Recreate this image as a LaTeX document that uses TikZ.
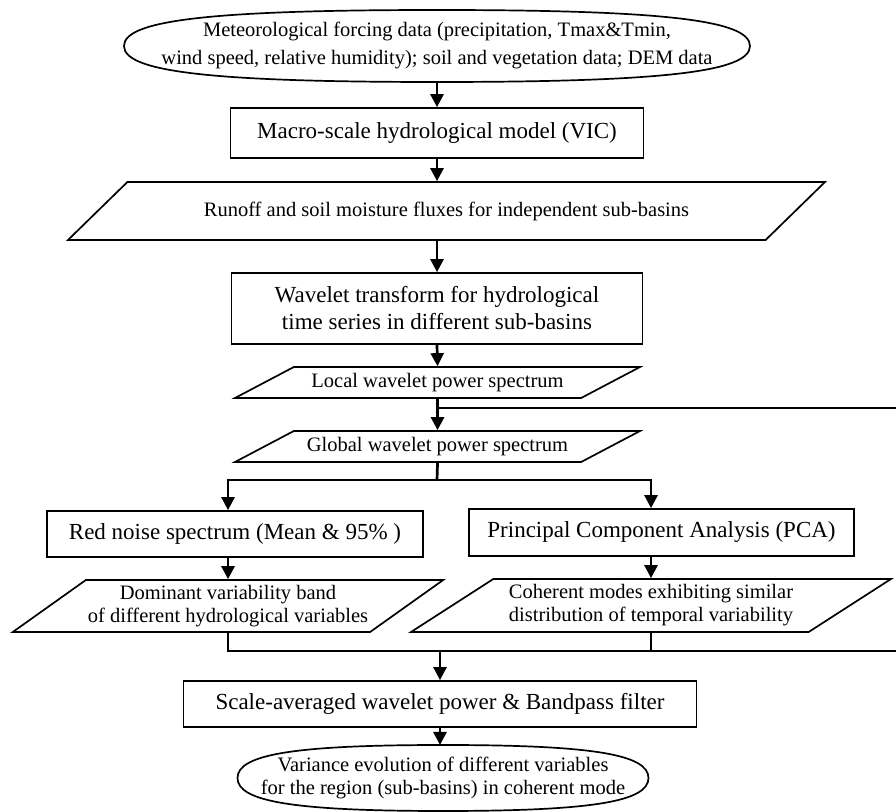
\documentclass[tikz,border=0pt]{standalone}
\usepackage{fontspec}
\setmainfont{Liberation Serif}
\usetikzlibrary{arrows.meta,calc,shapes.geometric}

% flattened oval drawn round a rectangle node
\newcommand{\ovaloutline}[1]{%
  \draw[line width=0.85pt] (#1.west)
    .. controls ($(#1.west)!0.72!(#1.north west)$) and ($(#1.north)!0.72!(#1.north west)$) .. (#1.north)
    .. controls ($(#1.north)!0.72!(#1.north east)$) and ($(#1.east)!0.72!(#1.north east)$) .. (#1.east)
    .. controls ($(#1.east)!0.72!(#1.south east)$) and ($(#1.south)!0.72!(#1.south east)$) .. (#1.south)
    .. controls ($(#1.south)!0.72!(#1.south west)$) and ($(#1.west)!0.72!(#1.south west)$) .. cycle;}

\tikzset{
  procbox/.style={draw,line width=0.85pt,rectangle,inner sep=2pt,align=center,
    font=\fontsize{11.5}{13.5}\selectfont},
  databox/.style 2 args={draw,line width=0.85pt,trapezium,trapezium left angle=#1,
    trapezium right angle=#2,trapezium stretches body,inner sep=1pt,align=center,
    font=\fontsize{10.25}{11.5}\selectfont},
  ovalbox/.style={rectangle,inner sep=0pt,outer sep=0pt,align=center},
  conn/.style={line width=1.35pt},
  arr/.style={conn,-{Triangle[length=6.5pt,width=6.5pt]}}
}

\begin{document}
\begin{tikzpicture}[x=0.5pt,y=-0.5pt]
\useasboundingbox (0,0) rectangle (896,812);
\node[ovalbox,minimum width=313pt,minimum height=36pt,font=\fontsize{10.25}{14}\selectfont] (forcing) at (437,46)
  {Meteorological forcing data (precipitation, Tmax\&Tmin,\\wind speed, relative humidity); soil and vegetation data; DEM data};
\node[procbox,minimum width=206.5pt,minimum height=25pt] (vic) at (437,133) {Macro-scale hydrological model (VIC)};
\node[databox={21}{159},minimum width=378.5pt,minimum height=29pt] (runoff) at (446.5,211) {Runoff and soil moisture fluxes for independent sub-basins};
\node[procbox,minimum width=205.5pt,minimum height=35.5pt] (wavelet) at (437,308.5) {Wavelet transform for hydrological\\time series in different sub-basins};
\node[databox={21}{159},minimum width=202.5pt,minimum height=15.5pt] (local) at (437.5,382.5) {Local wavelet power spectrum};
\node[databox={21}{159},minimum width=202.5pt,minimum height=15.5pt] (global) at (437.5,446.5) {Global wavelet power spectrum};
\node[procbox,minimum width=188pt,minimum height=23pt] (rednoise) at (235,534) {Red noise spectrum (Mean \& 95\% )};
\node[procbox,minimum width=192.5pt,minimum height=23.5pt] (pca) at (661.5,532.5) {Principal Component Analysis (PCA)};
\node[databox={32}{148},minimum width=214pt,minimum height=26pt] (dominant) at (228,606) {Dominant variability band\\of different hydrological variables};
\node[databox={29}{151},minimum width=240pt,minimum height=26.5pt] (coherent) at (651,605.5) {Coherent modes exhibiting similar\\distribution of temporal variability};
\node[procbox,minimum width=256.5pt,minimum height=23pt] (scaleavg) at (440,704) {Scale-averaged wavelet power \& Bandpass filter};
\node[ovalbox,minimum width=205.5pt,minimum height=33pt,font=\fontsize{10.25}{11.5}\selectfont] (variance) at (443,778)
  {Variance evolution of different variables\\for the region (sub-basins) in coherent mode};
\ovaloutline{forcing}
\ovaloutline{variance}
% junctions
\coordinate (lwps) at (437,408);
\coordinate (split) at (437,480);
\coordinate (merge) at (440,651);
\coordinate (eastbus) at (930,651);
% connectors
\draw[arr] (forcing.south) -- (vic.north);
\draw[arr] (vic.south) -- (vic.south |- runoff.north);
\draw[arr] (wavelet.north |- runoff.south) -- (wavelet.north);
\draw[arr] (wavelet.south) -- (local.south |- local.north);
\draw[arr] (local.south) -- (global.north);
\draw[conn] (lwps) -| (eastbus);
\draw[conn] (global.south) -- (split);
\draw[arr] (split) -| (dominant.north |- rednoise.north);
\draw[arr] (split) -| (coherent.north |- pca.north);
\draw[arr] (dominant.north |- rednoise.south) -- (dominant.north);
\draw[arr] (coherent.north |- pca.south) -- (coherent.north);
\draw[conn] (dominant.south) |- (eastbus);
\draw[conn] (coherent.south) -- (coherent.south |- merge);
\draw[arr] (merge) -- (merge |- scaleavg.north);
\draw[arr] (scaleavg.south) -- (scaleavg.south |- variance.north);
\end{tikzpicture}
\end{document}
